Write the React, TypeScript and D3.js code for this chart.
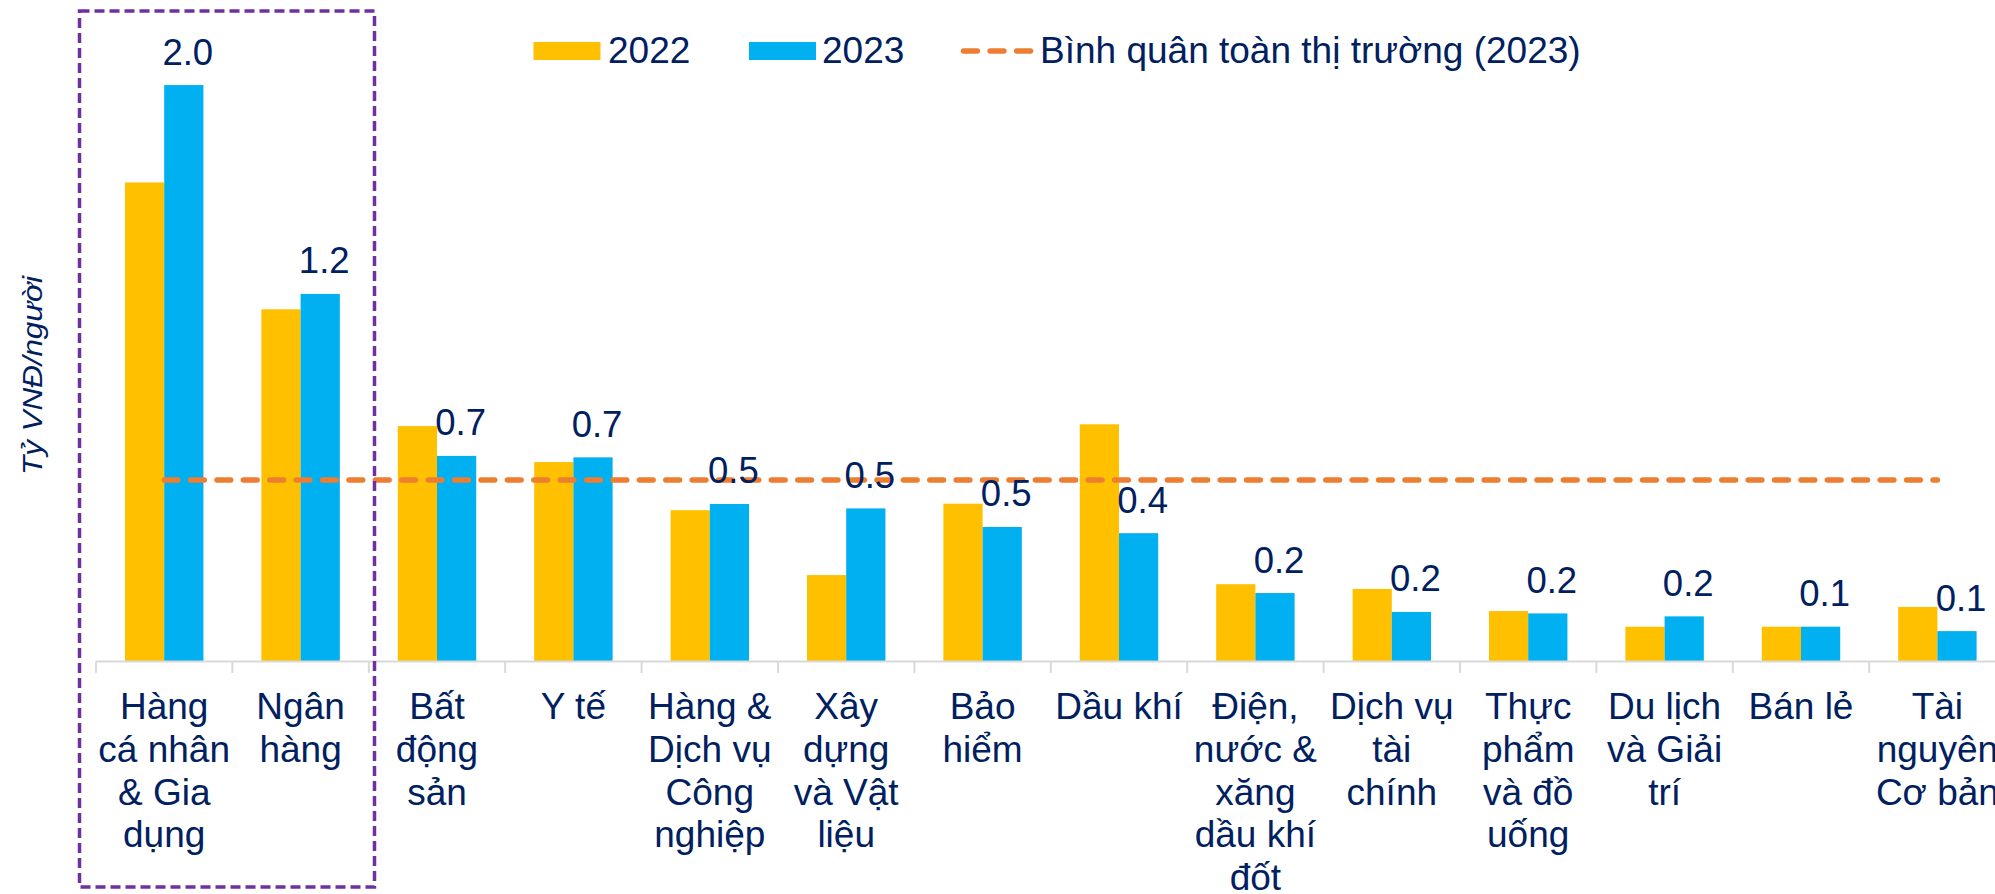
import React from "react";
import * as d3 from "d3";

const categoryLines: string[][] = [
  ["Hàng", "cá nhân", "& Gia", "dụng"],
  ["Ngân", "hàng"],
  ["Bất", "động", "sản"],
  ["Y tế"],
  ["Hàng &", "Dịch vụ", "Công", "nghiệp"],
  ["Xây", "dựng", "và Vật", "liệu"],
  ["Bảo", "hiểm"],
  ["Dầu khí"],
  ["Điện,", "nước &", "xăng", "dầu khí", "đốt"],
  ["Dịch vụ", "tài", "chính"],
  ["Thực", "phẩm", "và đồ", "uống"],
  ["Du lịch", "và Giải", "trí"],
  ["Bán lẻ"],
  ["Tài", "nguyên", "Cơ bản"],
];
const categories = categoryLines.map((l) => l.join(" "));

const values2022 = [1.624, 1.194, 0.798, 0.676, 0.513, 0.293, 0.535, 0.804, 0.262, 0.246, 0.171, 0.118, 0.118, 0.185];
const values2023 = [1.954, 1.246, 0.697, 0.692, 0.534, 0.519, 0.456, 0.435, 0.232, 0.168, 0.163, 0.153, 0.118, 0.103];
const marketAverage2023 = 0.615;

const seriesNames = ["2022", "2023"];
const seriesColors = ["#FFC000", "#00B0F0"];
const averageLabel = "Bình quân toàn thị trường (2023)";
const yTitle = "Tỷ VNĐ/người";

const W = 1995;
const H = 894;
const FONT = "'Liberation Sans', Arial, Helvetica, sans-serif";
const TEXT = "#002060";

export default function App() {
  const baseY = 661.5;
  const x0 = 96;
  const step = 136.4;
  const x = d3
    .scaleBand<string>()
    .domain(categories)
    .range([x0, x0 + step * categories.length])
    .paddingInner(0)
    .paddingOuter(0);
  const barW = x.bandwidth() * 0.2875;
  const xs = d3
    .scaleBand<string>()
    .domain(seriesNames)
    .range([x.bandwidth() / 2 - barW, x.bandwidth() / 2 + barW]);
  const y = d3.scaleLinear().domain([0, 2.2]).range([baseY, baseY - 2.2 * 295]);
  const fmt = d3.format(".1f");
  const series = [values2022, values2023];

  const firstC = (x(categories[0]) as number) + x.bandwidth() / 2;
  const lastC = (x(categories[categories.length - 1]) as number) + x.bandwidth() / 2;

  return (
    <svg
      width={W}
      height={H}
      style={{ position: "absolute", left: 0, top: 0, background: "#fff" }}
      fontFamily={FONT}
    >
      <rect x={0} y={0} width={W} height={H} fill="#fff" />
      {/* bars */}
      {categories.map((c, i) =>
        series.map((vals, s) => (
          <rect
            key={c + s}
            x={(x(c) as number) + (xs(seriesNames[s]) as number)}
            y={y(vals[i])}
            width={xs.bandwidth()}
            height={baseY - y(vals[i])}
            fill={seriesColors[s]}
          />
        ))
      )}
      {/* axis line */}
      <line x1={x0} x2={x0 + step * categories.length} y1={baseY} y2={baseY} stroke="#d9d9d9" strokeWidth={2} />
      {d3.range(categories.length + 1).map((i) => (
        <line key={"t" + i} x1={x0 + i * step} x2={x0 + i * step} y1={baseY} y2={baseY + 11.5} stroke="#d9d9d9" strokeWidth={2} />
      ))}
      {/* average line */}
      <line
        x1={firstC}
        x2={lastC}
        y1={y(marketAverage2023)}
        y2={y(marketAverage2023)}
        stroke="#ED7D31"
        strokeWidth={5.5}
        strokeDasharray="13.7 12.7"
        strokeLinecap="round"
      />
      {/* data labels 2023 */}
      {categories.map((c, i) => (
        <text
          key={"l" + i}
          x={(x(c) as number) + (xs("2023") as number) + xs.bandwidth() / 2 + 4}
          y={y(values2023[i]) - 20.5}
          textAnchor="middle"
          fontSize={36.5}
          fill={TEXT}
        >
          {fmt(values2023[i])}
        </text>
      ))}
      {/* category labels */}
      {categories.map((c, i) => (
        <text key={"c" + i} textAnchor="middle" fontSize={37} fill={TEXT}>
          {categoryLines[i].map((ln, k) => (
            <tspan key={k} x={(x(c) as number) + x.bandwidth() / 2} y={719 + k * 42.8}>
              {ln}
            </tspan>
          ))}
        </text>
      ))}
      {/* y title */}
      <text
        transform="translate(42,375.5) rotate(-90)"
        textAnchor="middle"
        fontSize={27}
        fontStyle="italic"
        fill={TEXT}
        textLength={199}
        lengthAdjust="spacingAndGlyphs"
      >
        {yTitle}
      </text>
      {/* highlight box */}
      <rect
        x={79.5}
        y={11}
        width={295}
        height={876}
        fill="none"
        stroke="#7030A0"
        strokeWidth={3.5}
        strokeDasharray="10 5"
      />
      {/* legend */}
      <rect x={533.5} y={42} width={67} height={18} fill={seriesColors[0]} />
      <text x={608} y={63} fontSize={37} fill={TEXT}>{seriesNames[0]}</text>
      <rect x={749} y={42} width={67} height={18} fill={seriesColors[1]} />
      <text x={822} y={63} fontSize={37} fill={TEXT}>{seriesNames[1]}</text>
      <line x1={963.5} x2={1030.5} y1={51} y2={51} stroke="#ED7D31" strokeWidth={5.5} strokeDasharray="13.8 12.8" strokeLinecap="round" />
      <text x={1040} y={63} fontSize={37} fill={TEXT}>{averageLabel}</text>
    </svg>
  );
}
